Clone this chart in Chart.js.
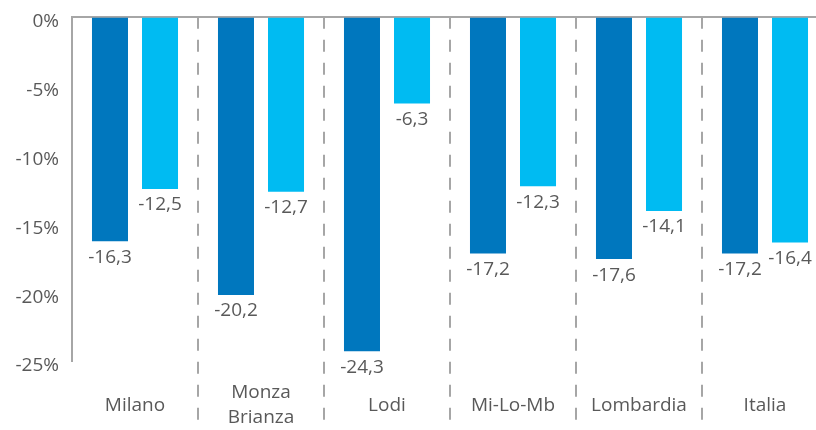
<!DOCTYPE html>
<html>
<head>
<meta charset="utf-8">
<script src="https://cdn.jsdelivr.net/npm/chart.js@4"></script>
<style>
  html, body { margin: 0; padding: 0; background: #fff; overflow: hidden; }
  #wrap { width: 828px; height: 430px; }
</style>
</head>
<body>
<div id="wrap"><canvas id="my_chart"></canvas></div>
<script>
// categories and values
var categories = ['Milano', ['Monza', 'Brianza'], 'Lodi', 'Mi-Lo-Mb', 'Lombardia', 'Italia']
var series_dark = [-16.3, -20.2, -24.3, -17.2, -17.6, -17.2]
var series_light = [-12.5, -12.7, -6.3, -12.3, -14.1, -16.4]
var y_ticks = [0, -5, -10, -15, -20, -25]

var text_color = '#595959'
var line_color = '#a6a6a6'
var font_family = "'Open Sans', sans-serif"

// dashed separators between categories, running down through the label area
var separators = {
  id: 'separators',
  afterDraw: function(chart) {
    var ctx = chart.ctx
    var xs = chart.scales.x
    var area = chart.chartArea
    ctx.save()
    ctx.strokeStyle = line_color
    ctx.lineWidth = 2
    ctx.setLineDash([12, 11])
    for (var i = 0; i < categories.length - 1; i++) {
      var x = Math.round((xs.getPixelForValue(i) + xs.getPixelForValue(i + 1)) / 2)
      ctx.beginPath()
      ctx.moveTo(x, area.top)
      ctx.lineTo(x, chart.height)
      ctx.stroke()
    }
    ctx.restore()
  }
}

// value labels under the end of each bar
var value_labels = {
  id: 'value_labels',
  afterDatasetsDraw: function(chart) {
    var ctx = chart.ctx
    ctx.save()
    ctx.fillStyle = text_color
    ctx.font = '19px ' + font_family
    ctx.textAlign = 'center'
    ctx.textBaseline = 'middle'
    chart.data.datasets.forEach(function(ds, di) {
      var meta = chart.getDatasetMeta(di)
      meta.data.forEach(function(bar, i) {
        var txt = ds.data[i].toFixed(1).replace('.', ',')
        ctx.fillText(txt, bar.x, bar.y + 16)
      })
    })
    ctx.restore()
  }
}

ctx = document.getElementById('my_chart')
my_chart = new Chart(ctx, {
  type: 'bar',
  data: {
    labels: categories,
    datasets: [
      {
        label: 'dark',
        data: series_dark,
        backgroundColor: '#0077be',
        categoryPercentage: 0.794,
        barPercentage: 0.72
      },
      {
        label: 'light',
        data: series_light,
        backgroundColor: '#00bbf2',
        categoryPercentage: 0.794,
        barPercentage: 0.72
      }
    ]
  },
  options: {
    responsive: true,
    maintainAspectRatio: false,
    animation: false,
    layout: { padding: { top: 16, right: 0, bottom: 0, left: 0 } },
    plugins: {
      legend: { display: false },
      tooltip: { enabled: false }
    },
    scales: {
      x: {
        grid: { display: false, drawTicks: false },
        border: { display: false },
        ticks: {
          color: text_color,
          font: { family: font_family, size: 19, lineHeight: 25 / 19 },
          padding: 32,
          crossAlign: 'center',
          maxRotation: 0,
          autoSkip: false
        },
        afterFit: function(scale) { scale.height = 69 }
      },
      y: {
        min: -25,
        max: 0,
        afterBuildTicks: function(scale) {
          scale.ticks = y_ticks.map(function(v) { return { value: v } })
        },
        grid: {
          drawTicks: false,
          lineWidth: 2,
          color: function(c) { return c.tick && c.tick.value === 0 ? line_color : 'rgba(0,0,0,0)' }
        },
        border: { display: true, color: line_color, width: 2 },
        ticks: {
          color: text_color,
          font: { family: font_family, size: 19, lineHeight: 0.4 },
          padding: 13,
          labelOffset: 5,
          callback: function(v) { return v + '%' }
        },
        afterFit: function(scale) { scale.width = 72 }
      }
    }
  },
  plugins: [separators, value_labels]
})
</script>
</body>
</html>
